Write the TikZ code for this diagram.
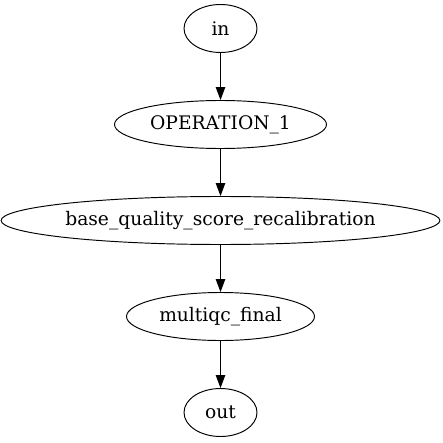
\documentclass[tikz,border=0pt]{standalone}
\usepackage{fontspec}
\setmainfont{DejaVu Serif}
\usetikzlibrary{shapes.geometric,arrows.meta}
\begin{document}
\begin{tikzpicture}[x=1pt,y=-1pt,
  st/.style={draw,ellipse,inner sep=0pt,minimum height=48pt,font=\fontsize{18.67pt}{22pt}\selectfont,line width=0.95pt},
  ar/.style={draw,line width=0.95pt,-{Triangle[length=13pt,width=9.5pt]}}]
\useasboundingbox (0,0) rectangle (442,443);
\node[st,minimum width=73pt] (in) at (220.5,28.5) {in};
\node[st,minimum width=212pt] (op) at (220.5,124.5) {OPERATION\_1};
\node[st,minimum width=430pt] (bq) at (220.5,220.5) {base\_quality\_score\_recalibration};
\node[st,minimum width=188pt] (mq) at (220.5,316.5) {multiqc\_final};
\node[st,minimum width=73pt] (out) at (220.5,412.5) {out};
\draw[ar] (in) -- (in |- op.north);
\draw[ar] (op) -- (op |- bq.north);
\draw[ar] (bq) -- (bq |- mq.north);
\draw[ar] (mq) -- (mq |- out.north);
\end{tikzpicture}
\end{document}
